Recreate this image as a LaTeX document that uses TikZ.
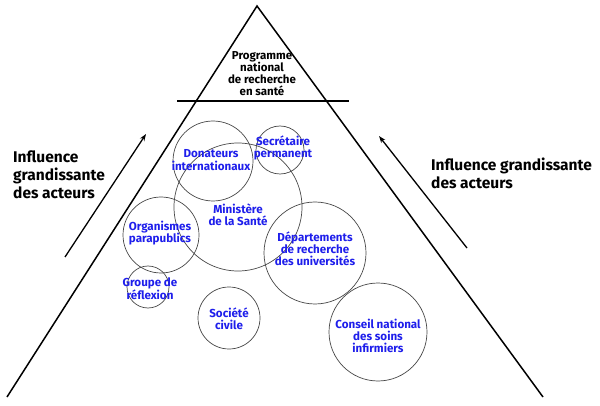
\documentclass[tikz,border=0pt]{standalone}
\usepackage{fontspec}
\setmainfont{Fira Sans}[BoldFont={Fira Sans Bold}]
\usetikzlibrary{arrows.meta}
\definecolor{actblue}{RGB}{30,30,235}
\definecolor{ringgray}{RGB}{70,70,70}
\tikzset{
  ring/.style={circle, draw=ringgray, line width=0.7pt, inner sep=0pt},
  actor/.style={text=actblue, font=\bfseries\fontsize{11.6}{12.2}\selectfont, align=center, inner sep=0pt},
  sidelabel/.style={font=\bfseries\fontsize{15.5}{18}\selectfont, align=left, inner sep=0pt, anchor=west},
  edge/.style={line width=1.5pt, black},
  influence/.style={line width=1.3pt, -{Stealth[length=7pt,width=5pt]}},
}
\begin{document}
\begin{tikzpicture}[x=1pt,y=-1pt]
\useasboundingbox (0,0) rectangle (600,406);
% pyramid
\coordinate (apex) at (257,6);
\coordinate (bl) at (7,397);
\coordinate (br) at (543,397);
\coordinate (hl) at (177,101);
\coordinate (hr) at (349,101);
\draw[edge] (bl) -- (apex) -- (br);
\draw[edge] (hl) -- (hr);
\node[font=\bfseries\fontsize{11.5}{12}\selectfont, align=center, inner sep=0pt] (prog) at (262,74) {Programme\\national\\de recherche\\en santé};
% arrows
\coordinate (la0) at (65,257);
\coordinate (la1) at (146,134);
\coordinate (ra0) at (467,248);
\coordinate (ra1) at (379,136);
\draw[influence] (la0) -- (la1);
\draw[influence] (ra0) -- (ra1);
\node[sidelabel] (ltxt) at (13,175) {Influence\\grandissante\\des acteurs};
\node[sidelabel] (rtxt) at (431,173) {Influence grandissante\\des acteurs};
% circles
\node[ring, minimum size=128pt] (min) at (238,207) {};
\node[ring, minimum size=80pt] (don) at (213,161) {};
\node[ring, minimum size=48pt] (sec) at (280,150) {};
\node[ring, minimum size=76pt] (org) at (161,235) {};
\node[ring, minimum size=42pt] (grp) at (148,287) {};
\node[ring, minimum size=62pt] (soc) at (229,318) {};
\node[ring, minimum size=102pt] (dep) at (315,253) {};
\node[ring, minimum size=98pt] (cns) at (378,332) {};
% labels
\node[actor] (tmin) at (238,215) {Ministère\\de la Santé};
\node[actor] (tdon) at (211,160) {Donateurs\\internationaux};
\node[actor] (tsec) at (283,148) {Secrétaire\\permanent};
\node[actor] (torg) at (160,233) {Organismes\\parapublics};
\node[actor] (tgrp) at (150,289) {Groupe de\\réflexion};
\node[actor] (tsoc) at (229,319) {Société\\civile};
\node[actor] (tdep) at (315,249) {Départements\\de recherche\\des universités};
\node[actor] (tcns) at (378,336) {Conseil national\\des soins\\infirmiers};
\end{tikzpicture}
\end{document}
